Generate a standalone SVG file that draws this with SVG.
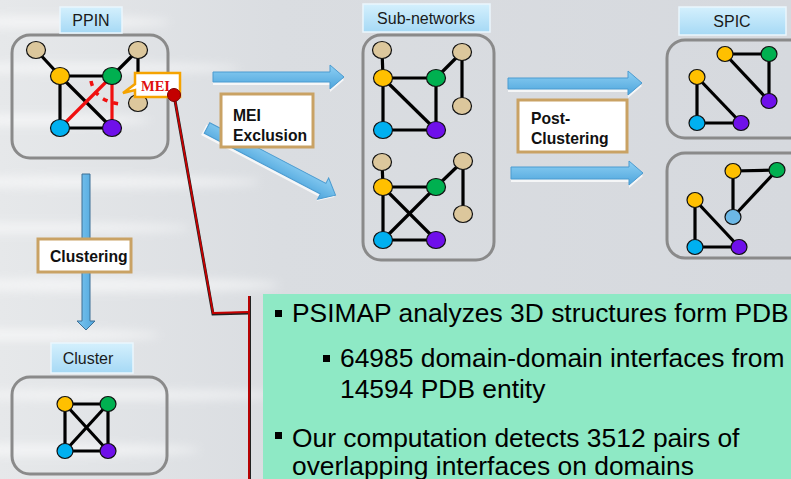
<svg xmlns="http://www.w3.org/2000/svg" width="791" height="479" viewBox="0 0 791 479">
<defs>
<linearGradient id="bg" x1="0" y1="0" x2="1" y2="0">
<stop offset="0" stop-color="#e6e8ea"/>
<stop offset="0.35" stop-color="#dadde1"/>
<stop offset="1" stop-color="#d6d9de"/>
</linearGradient>
<linearGradient id="lbl" x1="0" y1="0" x2="0" y2="1">
<stop offset="0" stop-color="#d4f0fd"/>
<stop offset="1" stop-color="#a6d9f5"/>
</linearGradient>
<linearGradient id="arr" x1="0" y1="0" x2="0" y2="1">
<stop offset="0" stop-color="#8ed0f4"/>
<stop offset="1" stop-color="#4ea5dc"/>
</linearGradient>
<linearGradient id="arrv" x1="0" y1="0" x2="1" y2="0">
<stop offset="0" stop-color="#7cc6f0"/>
<stop offset="1" stop-color="#4ea5dc"/>
</linearGradient>
<filter id="blur" x="-20%" y="-200%" width="140%" height="500%"><feGaussianBlur stdDeviation="5"/></filter>
</defs>
<style>
.panel{fill:none;stroke:#8a8a8a;stroke-width:3}
.lblbox{fill:url(#lbl);stroke:#eaf6fd;stroke-width:1.5}
.lbltxt{font-family:"Liberation Sans",Arial,sans-serif;font-size:16px;fill:#1a1a1a;text-anchor:middle}
.box{fill:#ffffff;stroke:#c9a264;stroke-width:3}
.boxtxt{font-family:"Liberation Sans",Arial,sans-serif;font-size:15.7px;font-weight:bold;fill:#111}
.e{stroke:#000;stroke-width:3.2;fill:none}
.r{stroke:#f01010;stroke-width:3.2;fill:none}
.n{stroke:#111;stroke-width:1.2}
.tan{fill:#dcc79c}.yel{fill:#ffc000}.grn{fill:#00b050}.cya{fill:#00b0f0}.pur{fill:#6f10ea}.lbl2{fill:#6cb8e6}
.arrow{fill:url(#arr);stroke:#4b9bd0;stroke-width:1}
.ashadow{fill:#ffffff;opacity:0.75}
.main{font-family:"Liberation Sans",Arial,sans-serif;font-size:26.4px;fill:#000}
</style>
<rect width="791" height="479" fill="url(#bg)"/>
<g filter="url(#blur)" fill="#ffffff" opacity="0.55">
<ellipse cx="40" cy="22" rx="130" ry="6"/>
<ellipse cx="80" cy="68" rx="160" ry="5"/>
<ellipse cx="30" cy="120" rx="120" ry="6"/>
<ellipse cx="90" cy="182" rx="170" ry="6"/>
<ellipse cx="40" cy="228" rx="150" ry="5"/>
<ellipse cx="110" cy="285" rx="170" ry="7"/>
<ellipse cx="30" cy="335" rx="130" ry="6"/>
<ellipse cx="120" cy="395" rx="160" ry="5"/>
<ellipse cx="50" cy="450" rx="150" ry="6"/>
</g>

<!-- PPIN -->
<g id="ppin">
<rect class="panel" x="12" y="35" width="156" height="123" rx="18"/>
<rect class="lblbox" x="60" y="7" width="62" height="26"/>
<text class="lbltxt" x="91" y="26">PPIN</text>
<line class="e" x1="36" y1="50" x2="60" y2="76"/>
<line class="e" x1="60" y1="76" x2="112" y2="76"/>
<line class="e" x1="60" y1="76" x2="60" y2="128"/>
<line class="e" x1="60" y1="76" x2="112" y2="128"/>
<line class="e" x1="60" y1="128" x2="112" y2="128"/>
<line class="e" x1="112" y1="76" x2="138" y2="50"/>
<line class="e" x1="138" y1="50" x2="138" y2="103"/>
<line class="r" x1="60" y1="128" x2="112" y2="76"/>
<line class="r" x1="112" y1="76" x2="112" y2="128"/>
<path d="M91,81 Q95,101 120,104" stroke="#f01010" stroke-width="3.5" fill="none" stroke-dasharray="5,6"/>
<ellipse class="n tan" cx="36" cy="50" rx="9.5" ry="8.5"/>
<ellipse class="n tan" cx="138" cy="50" rx="9.5" ry="8.5"/>
<ellipse class="n tan" cx="138" cy="103" rx="9.5" ry="8.5"/>
<ellipse class="n yel" cx="60" cy="76" rx="9.5" ry="8.5"/>
<ellipse class="n grn" cx="112" cy="76" rx="9.5" ry="8.5"/>
<ellipse class="n cya" cx="60" cy="128" rx="9.5" ry="8.5"/>
<ellipse class="n pur" cx="112" cy="128" rx="9.5" ry="8.5"/>
</g>

<g id="mei">
<path d="M135,73 H180 V97 H135 V90 L123,93 L135,84 Z" fill="#ffffff" stroke="#f5a300" stroke-width="2.5"/>
<text x="141" y="91" font-family="'Liberation Serif','Times New Roman',serif" font-size="14.5" font-weight="bold" fill="#e01010">MEI</text>
</g>

<!-- Sub-networks -->
<g id="subnetworks">
<rect class="panel" x="363" y="35" width="131" height="225" rx="18"/>
<rect class="lblbox" x="363" y="4" width="127" height="28"/>
<text class="lbltxt" x="426" y="24">Sub-networks</text>
<line class="e" x1="382" y1="50" x2="383" y2="78"/>
<line class="e" x1="383" y1="78" x2="436" y2="78"/>
<line class="e" x1="383" y1="78" x2="383" y2="130"/>
<line class="e" x1="383" y1="78" x2="436" y2="130"/>
<line class="e" x1="436" y1="78" x2="436" y2="130"/>
<line class="e" x1="383" y1="130" x2="436" y2="130"/>
<line class="e" x1="436" y1="78" x2="462" y2="52"/>
<line class="e" x1="462" y1="52" x2="462" y2="106"/>
<ellipse class="n tan" cx="382" cy="50" rx="9.5" ry="8.5"/>
<ellipse class="n tan" cx="462" cy="52" rx="9.5" ry="8.5"/>
<ellipse class="n tan" cx="462" cy="106" rx="9.5" ry="8.5"/>
<ellipse class="n yel" cx="383" cy="78" rx="9.5" ry="8.5"/>
<ellipse class="n grn" cx="436" cy="78" rx="9.5" ry="8.5"/>
<ellipse class="n cya" cx="383" cy="130" rx="9.5" ry="8.5"/>
<ellipse class="n pur" cx="436" cy="130" rx="9.5" ry="8.5"/>

<line class="e" x1="382" y1="162" x2="383" y2="187"/>
<line class="e" x1="383" y1="187" x2="436" y2="187"/>
<line class="e" x1="383" y1="187" x2="383" y2="240"/>
<line class="e" x1="383" y1="187" x2="436" y2="240"/>
<line class="e" x1="436" y1="187" x2="383" y2="240"/>
<line class="e" x1="383" y1="240" x2="436" y2="240"/>
<line class="e" x1="436" y1="187" x2="463" y2="161"/>
<line class="e" x1="463" y1="161" x2="463" y2="214"/>
<ellipse class="n tan" cx="382" cy="162" rx="9.5" ry="8.5"/>
<ellipse class="n tan" cx="463" cy="161" rx="9.5" ry="8.5"/>
<ellipse class="n tan" cx="463" cy="214" rx="9.5" ry="8.5"/>
<ellipse class="n yel" cx="383" cy="187" rx="9.5" ry="8.5"/>
<ellipse class="n grn" cx="436" cy="187" rx="9.5" ry="8.5"/>
<ellipse class="n cya" cx="383" cy="240" rx="9.5" ry="8.5"/>
<ellipse class="n pur" cx="436" cy="240" rx="9.5" ry="8.5"/>
</g>

<!-- SPIC -->
<g id="spic">
<rect class="lblbox" x="679" y="7" width="107" height="28"/>
<text class="lbltxt" x="732" y="27">SPIC</text>
<rect class="panel" x="667" y="40" width="140" height="98" rx="18"/>
<rect class="panel" x="667" y="153" width="140" height="105" rx="18"/>
<line class="e" x1="725" y1="54" x2="769" y2="54"/>
<line class="e" x1="769" y1="54" x2="769" y2="101"/>
<line class="e" x1="725" y1="54" x2="769" y2="101"/>
<line class="e" x1="697" y1="77" x2="697" y2="123"/>
<line class="e" x1="697" y1="123" x2="741" y2="123"/>
<line class="e" x1="697" y1="77" x2="741" y2="123"/>
<ellipse class="n yel" cx="725" cy="54" rx="8" ry="7.5"/>
<ellipse class="n grn" cx="769" cy="54" rx="8" ry="7.5"/>
<ellipse class="n pur" cx="769" cy="101" rx="8" ry="7.5"/>
<ellipse class="n yel" cx="697" cy="77" rx="8" ry="7.5"/>
<ellipse class="n cya" cx="697" cy="123" rx="8" ry="7.5"/>
<ellipse class="n pur" cx="741" cy="123" rx="8" ry="7.5"/>

<line class="e" x1="733" y1="171" x2="777" y2="170"/>
<line class="e" x1="733" y1="171" x2="733" y2="217"/>
<line class="e" x1="777" y1="170" x2="733" y2="217"/>
<line class="e" x1="695" y1="200" x2="695" y2="247"/>
<line class="e" x1="695" y1="247" x2="739" y2="247"/>
<line class="e" x1="695" y1="200" x2="739" y2="247"/>
<ellipse class="n yel" cx="733" cy="171" rx="8" ry="7.5"/>
<ellipse class="n grn" cx="777" cy="170" rx="8" ry="7.5"/>
<ellipse class="n lbl2" cx="733" cy="217" rx="8" ry="7.5"/>
<ellipse class="n yel" cx="695" cy="200" rx="8" ry="7.5"/>
<ellipse class="n cya" cx="695" cy="247" rx="8" ry="7.5"/>
<ellipse class="n pur" cx="739" cy="247" rx="8" ry="7.5"/>
</g>

<!-- Cluster -->
<g id="cluster">
<rect class="lblbox" x="51" y="343" width="82" height="30"/>
<text class="lbltxt" x="88" y="364">Cluster</text>
<rect class="panel" x="12" y="377" width="155" height="97" rx="18"/>
<line class="e" x1="65" y1="404" x2="108" y2="404"/>
<line class="e" x1="65" y1="404" x2="65" y2="451"/>
<line class="e" x1="108" y1="404" x2="108" y2="451"/>
<line class="e" x1="65" y1="451" x2="108" y2="451"/>
<line class="e" x1="65" y1="404" x2="108" y2="451"/>
<line class="e" x1="108" y1="404" x2="65" y2="451"/>
<ellipse class="n yel" cx="65" cy="404" rx="8" ry="7.5"/>
<ellipse class="n grn" cx="108" cy="404" rx="8" ry="7.5"/>
<ellipse class="n cya" cx="65" cy="451" rx="8" ry="7.5"/>
<ellipse class="n pur" cx="108" cy="451" rx="8" ry="7.5"/>
</g>

<!-- Text panel -->
<g id="textpanel">
<rect x="263" y="294" width="540" height="190" fill="#8ee9c5"/>
<rect x="275" y="310" width="7" height="7" fill="#000"/>
<text class="main" x="292" y="322">PSIMAP analyzes 3D structures form PDB</text>
<rect x="323" y="355" width="7" height="7" fill="#000"/>
<text class="main" x="340" y="367">64985 domain-domain interfaces from</text>
<text class="main" x="340" y="398">14594 PDB entity</text>
<rect x="275" y="432" width="7" height="7" fill="#000"/>
<text class="main" x="292" y="447">Our computation detects 3512 pairs of</text>
<text class="main" x="292" y="475">overlapping interfaces on domains</text>
</g>

<!-- connectors -->
<g id="connectors">
<path class="ashadow" d="M213,75 H330 V68 L344,80 L330,92 V85 H213 Z"/>
<path class="arrow" d="M213,72 H330 V65 L344,77 L330,89 V82 H213 Z"/>
<g transform="translate(207,128) rotate(27.6)">
<path class="ashadow" d="M-2,-3 H131 V-10 L145,2 L131,14 V9 H-2 Z"/>
<path class="arrow" d="M0,-6 H131 V-12 L145,0 L131,12 V6 H0 Z"/>
</g>
<path class="ashadow" d="M508,81 H628 V74 L642,86 L628,98 V92 H508 Z"/>
<path class="arrow" d="M508,78 H628 V71 L642,83 L628,95 V89 H508 Z"/>
<path class="ashadow" d="M511,170 H629 V164 L643,176 L629,188 V182 H511 Z"/>
<path class="arrow" d="M511,167 H629 V161 L643,173 L629,185 V179 H511 Z"/>
<path d="M82,174 H90 V321 H95 L86,330 L77,321 H82 Z" fill="url(#arrv)" stroke="#3d6f95" stroke-width="1"/>

<polyline points="174,95 213,314 249,313" fill="none" stroke="#222" stroke-width="3"/>
<polyline points="174,95 213,313 249,312" fill="none" stroke="#c80000" stroke-width="1.8"/>
<line x1="249.5" y1="296" x2="249.5" y2="479" stroke="#222" stroke-width="3"/>
<line x1="249" y1="296" x2="249" y2="479" stroke="#c80000" stroke-width="1.8"/>
<circle cx="174" cy="95" r="6.5" fill="#c40000" stroke="#7a0000" stroke-width="1"/>
</g>

<!-- labels on arrows -->
<g id="lbl-mei-exclusion">
<rect class="box" x="221" y="94" width="92" height="53"/>
<text class="boxtxt" x="233" y="121">MEI</text>
<text class="boxtxt" x="233" y="141">Exclusion</text>
</g>
<g id="lbl-post-clustering">
<rect class="box" x="518" y="100" width="109" height="52"/>
<text class="boxtxt" x="531" y="124">Post-</text>
<text class="boxtxt" x="531" y="144">Clustering</text>
</g>
<g id="lbl-clustering">
<rect class="box" x="38" y="239" width="93" height="33"/>
<text class="boxtxt" x="50" y="262">Clustering</text>
</g>
</svg>
